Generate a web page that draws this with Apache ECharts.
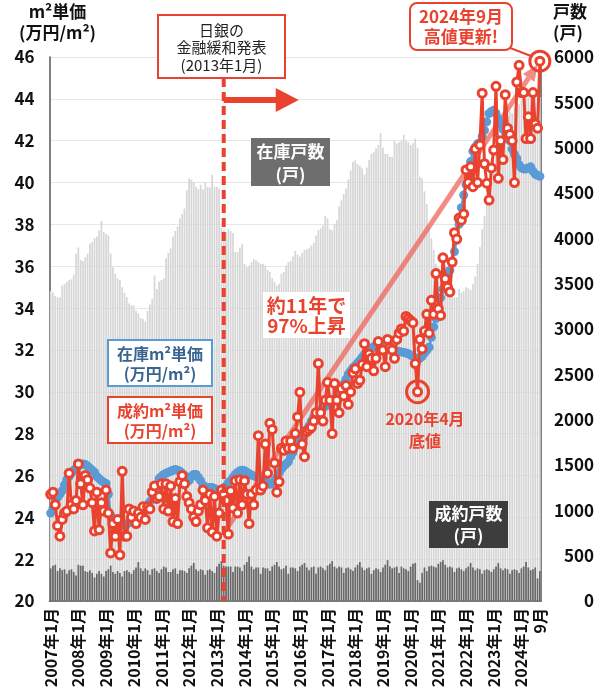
<!DOCTYPE html>
<html>
<head>
<meta charset="utf-8">
<script src="https://cdn.jsdelivr.net/npm/echarts@6/dist/echarts.min.js"></script>
<style>html,body{margin:0;padding:0;background:#fff}#c{width:600px;height:695px}</style>
</head>
<body>
<div id="c"></div>
<script>
// ---- categories: monthly, 2007年1月 .. 2024年9月 ----
const months = [];
for (let y = 2007; y <= 2024; y++) {
  for (let m = 1; m <= 12; m++) {
    if (y === 2024 && m > 9) break;
    months.push(y + '年' + m + '月');
  }
}

// 在庫戸数 (right axis, 戸)
const inventoryUnits = [
  3420,3400,3360,3350,3350,3480,3500,3520,3540,3550,3600,3830,
  3900,3760,3750,3790,3830,3940,3960,4000,4020,4090,4190,4070,
  4050,4030,3830,3680,3610,3560,3540,3460,3400,3350,3280,3260,
  3260,3200,3170,3120,3110,3080,3200,3270,3330,3590,3440,3520,
  3540,3560,3780,3840,3890,4020,4080,4130,4220,4270,4330,4530,
  4660,4650,4620,4570,4540,4590,4540,4620,4570,4560,4700,4570,
  4570,4550,4120,4090,4070,4100,4080,4060,3850,3850,3900,3940,
  3720,3680,3700,3740,3770,3760,3740,3720,3720,3700,3650,3630,
  3560,3520,3480,3500,3610,3630,3700,3740,3750,3800,3860,3820,
  3800,3840,3870,3880,3890,3920,3950,4030,4090,4110,4140,4250,
  4220,4100,4090,4160,4200,4350,4420,4490,4550,4650,4750,4845,
  4860,4820,4800,4770,4700,4780,4860,4930,4950,4990,5030,5160,
  5000,4930,4930,4900,4900,5080,5045,5060,5080,5140,5080,5060,
  5030,5050,5100,5000,4680,4660,4520,4380,4125,4000,3870,3720,
  3680,3650,3535,3460,3420,3390,3370,3350,3350,3440,3400,3420,
  3460,3450,3430,3500,3580,3720,3905,4100,4250,4420,4600,4715,
  4860,4950,5050,5120,5200,5280,5350,5400,5380,5450,5500,5480,
  5520,5560,5540,5600,5580,5550,5580,5600,5560
];

// 成約戸数 (right axis, 戸)
const contractUnits = [
  360,390,400,330,360,340,350,300,340,350,320,280,
  400,390,390,330,320,340,310,260,300,330,300,270,
  330,350,390,320,300,330,310,270,330,340,320,300,
  340,370,430,360,330,360,340,290,350,360,330,310,
  350,380,370,320,320,350,360,300,340,340,330,310,
  360,390,420,350,330,350,340,290,340,350,330,310,
  380,410,440,390,380,380,380,320,380,380,370,330,
  400,430,490,380,350,370,370,300,370,360,360,330,
  380,400,430,380,350,360,390,300,370,370,360,330,
  380,400,420,370,340,370,380,300,370,380,360,340,
  390,410,440,380,360,380,370,310,360,370,350,330,
  370,400,430,370,340,360,370,300,340,360,350,320,
  370,400,450,380,360,370,380,310,380,360,350,330,
  380,410,420,230,200,310,370,330,380,390,380,370,
  410,430,450,400,370,380,370,320,360,370,350,330,
  360,380,420,370,340,360,350,300,340,350,340,320,
  350,380,420,360,340,360,350,300,340,350,340,310,
  360,380,430,370,340,350,370,250,330
];

// 在庫m²単価 (left axis, 万円/m²)
const inventoryPrice = [
  24.2,24.45,24.75,24.95,25.1,25.27,25.55,25.8,25.95,26.1,26.25,26.35,
  26.45,26.52,26.55,26.52,26.45,26.35,26.25,26.15,25.95,25.85,25.75,25.68,
  25.62,25.1,24.1,23.8,23.72,23.67,23.63,23.6,23.62,23.67,23.75,23.8,
  23.86,23.95,24.05,24.2,24.35,24.5,24.6,24.75,25.1,25.35,25.55,25.85,
  25.95,26.05,26.1,26.15,26.2,26.25,26.28,26.25,26.2,26.1,26.0,25.9,
  25.75,25.95,26.05,26.05,25.9,25.75,25.55,25.45,25.43,25.43,25.42,25.38,
  25.3,25.27,25.3,25.4,25.5,25.65,25.75,25.9,26.05,26.15,26.22,26.25,
  26.23,26.15,26.08,26.02,25.98,25.95,25.92,25.85,25.8,25.75,25.65,25.58,
  25.6,25.75,25.9,26.1,26.3,26.45,26.55,26.65,26.9,27.1,27.4,27.55,
  27.65,27.8,28.05,28.2,28.38,28.6,28.8,28.95,29.05,29.15,29.22,29.3,
  29.36,29.45,29.58,29.66,29.75,29.85,30.1,30.38,30.6,30.85,31.0,31.15,
  31.25,31.38,31.5,31.65,31.8,31.9,31.98,32.05,32.15,32.22,32.3,32.3,
  32.25,32.15,32.05,32.0,31.97,31.95,31.95,31.93,31.9,31.88,31.85,31.82,
  31.75,31.7,31.6,31.55,31.6,31.7,31.85,31.98,32.13,32.6,33.1,33.5,
  33.9,34.5,34.9,35.2,35.5,35.8,36.2,36.7,37.3,38.0,38.8,39.4,
  39.9,40.5,41.0,41.5,41.7,41.85,41.9,42.2,42.5,42.9,43.3,43.4,
  43.45,43.3,43.05,42.8,42.55,42.4,42.25,42.0,41.6,41.35,41.15,40.85,
  40.7,40.65,40.65,40.7,40.75,40.55,40.4,40.35,40.3
];

// 成約m²単価 (left axis, 万円/m²)
const contractPrice = [
  25.1,25.2,24.6,23.6,23.1,23.9,24.2,24.3,26.1,24.6,24.4,24.8,
  26.55,25.6,24.6,26.0,25.8,25.4,24.7,23.35,25.2,23.4,24.7,24.3,
  25.3,24.2,22.3,23.7,23.1,23.9,22.2,26.2,23.1,23.1,24.4,24.0,
  24.3,23.7,24.2,24.0,24.5,23.9,24.5,24.4,25.2,25.5,24.9,25.0,
  25.6,24.4,25.6,24.3,25.5,23.8,24.9,23.7,25.7,26.0,25.6,25.0,
  24.7,24.4,24.0,23.8,24.3,24.6,25.3,24.8,23.5,25.1,23.3,25.0,
  23.1,24.2,25.3,25.1,24.8,23.2,25.27,24.45,25.75,24.2,25.8,24.6,
  25.75,25.1,23.7,25.1,24.6,25.3,27.9,25.3,25.5,27.5,26.1,28.5,
  28.2,26.6,25.2,25.7,27.3,27.2,27.65,27.3,27.65,27.3,28.0,28.8,
  29.98,27.5,26.9,28.1,28.2,28.3,28.6,29.0,31.35,29.0,28.6,29.6,
  30.45,29.6,28.0,30.4,29.6,29.0,30.15,29.8,30.3,29.4,30.0,30.9,
  31.1,30.4,30.55,31.3,32.3,31.2,31.8,31.6,31.0,31.6,32.4,32.0,
  32.0,31.2,32.5,32.1,32.0,31.6,32.5,32.8,33.0,32.9,33.6,33.5,
  33.4,33.3,31.35,30.0,32.5,32.05,32.9,33.7,32.8,34.37,33.7,35.65,
  33.97,33.65,36.4,35.4,35.0,34.77,36.2,37.6,37.3,38.3,38.2,38.5,
  40.6,40.0,40.75,39.8,41.6,40.0,41.8,44.27,40.9,39.97,39.16,40.7,
  41.55,44.6,40.2,42.0,41.1,44.2,42.6,42.3,42.0,40.0,44.8,45.6,
  44.3,44.3,42.1,43.15,42.1,44.3,42.8,42.6,45.8
];

// axis ticks
const priceAxis = { min: 20, max: 46, interval: 2 };
const unitAxis = { min: 0, max: 6000, interval: 500 };

// annotation anchors
const bojMonth = '2013年4月';
const lowMonth = '2020年4月';
const highMonth = '2024年9月';
const trendFrom = ['2013年4月', 23.25];
const trendTo = ['2024年9月', 45.8];

const F = "'Noto Sans CJK JP','Noto Sans',sans-serif";
const RED = '#e9432f';
const BLUE = '#5b9bd5';

const chart = echarts.init(document.getElementById('c'), null, { renderer: 'canvas' });
const lastIdx = months.length - 1;

const option = {
  animation: false,
  textStyle: { fontFamily: F },
  grid: { left: 42, right: 59, top: 57, bottom: 94 },
  xAxis: {
    type: 'category',
    data: months,
    boundaryGap: true,
    axisLine: { lineStyle: { color: '#555', width: 1.5 } },
    axisTick: { show: false },
    splitLine: { show: false },
    axisLabel: {
      rotate: 90,
      interval: (i, v) => /年1月$/.test(v) || i === lastIdx,
      formatter: (v, i) => (i === lastIdx ? v.slice(v.indexOf('年') + 1) : v),
      fontSize: 16, fontWeight: 'bold', color: '#111', margin: 7, fontFamily: F
    }
  },
  yAxis: [
    {
      type: 'value', min: priceAxis.min, max: priceAxis.max, interval: priceAxis.interval,
      name: 'm²単価\n(万円/m²)', nameLocation: 'end', nameGap: 14,
      nameTextStyle: { fontSize: 17, fontWeight: 'bold', color: '#111', align: 'center', lineHeight: 21, padding: [0, 0, 0, 16], fontFamily: F },
      axisLine: { show: true, lineStyle: { color: '#555', width: 1.5 } },
      axisTick: { show: false },
      axisLabel: { fontSize: 17, fontWeight: 'bold', color: '#111', margin: 15, fontFamily: F },
      splitLine: { show: true, lineStyle: { color: '#e6e6e6', width: 1 } }
    },
    {
      type: 'value', min: unitAxis.min, max: unitAxis.max, interval: unitAxis.interval, position: 'right',
      name: '戸数\n(戸)', nameLocation: 'end', nameGap: 14,
      nameTextStyle: { fontSize: 17, fontWeight: 'bold', color: '#111', align: 'left', lineHeight: 21, padding: [0, 0, 0, 12], fontFamily: F },
      axisLine: { show: true, lineStyle: { color: '#555', width: 1.5 } },
      axisTick: { show: false },
      axisLabel: { fontSize: 17, fontWeight: 'bold', color: '#111', align: 'right', margin: 53, fontFamily: F,
                   formatter: v => String(v) },
      splitLine: { show: false }
    }
  ],
  series: [
    { name: '在庫戸数', type: 'bar', yAxisIndex: 1, data: inventoryUnits, barWidth: '74%', barGap: '-100%',
      itemStyle: { color: '#d6d6d6' }, z: 1, silent: true },
    { name: '成約戸数', type: 'bar', yAxisIndex: 1, data: contractUnits, barWidth: '74%', barGap: '-100%',
      itemStyle: { color: '#676767' }, z: 1, silent: true },
    { name: '在庫m²単価', type: 'line', yAxisIndex: 0, data: inventoryPrice, symbol: 'circle', symbolSize: 9,
      showAllSymbol: true, lineStyle: { color: BLUE, width: 2.5 }, itemStyle: { color: BLUE }, z: 3, silent: true },
    { name: '成約m²単価', type: 'line', yAxisIndex: 0, data: contractPrice, symbol: 'circle', symbolSize: 8,
      showAllSymbol: true, lineStyle: { color: RED, width: 3 },
      itemStyle: { color: '#fff', borderColor: RED, borderWidth: 3 }, z: 4, silent: true,
      markPoint: {
        silent: true, symbol: 'circle', label: { show: false },
        itemStyle: { color: 'rgba(0,0,0,0)', borderColor: RED, borderWidth: 3 },
        data: [
          { coord: [months.indexOf(lowMonth), contractPrice[months.indexOf(lowMonth)]], symbolSize: 22 },
          { coord: [months.indexOf(highMonth), contractPrice[months.indexOf(highMonth)]], symbolSize: 20 }
        ]
      }
    }
  ]
};
chart.setOption(option);

// ---- annotations ----
const toPx = (cat, val) => chart.convertToPixel({ xAxisIndex: 0, yAxisIndex: 0 }, [months.indexOf(cat), val]);
const bottomY = toPx(months[0], priceAxis.min)[1];
const bojX = toPx(bojMonth, priceAxis.min)[0];
const p0 = toPx(trendFrom[0], trendFrom[1]);
const p1 = toPx(trendTo[0], trendTo[1]);
const dx = p1[0] - p0[0], dy = p1[1] - p0[1];
const len = Math.sqrt(dx * dx + dy * dy);
const ux = dx / len, uy = dy / len;
const tip = [p1[0] - ux * 4, p1[1] - uy * 4];
const base = [tip[0] - ux * 16, tip[1] - uy * 16];
const nx = -uy, ny = ux;
const TREND = 'rgba(238,96,84,0.72)';

const rect = (x, y, w, h, fill, stroke, lw, r) => ({
  type: 'rect', silent: true, z: 20,
  shape: { x, y, width: w, height: h, r: r || 0 },
  style: { fill, stroke: stroke || null, lineWidth: lw || 0 }
});
const txt = (x, y, text, color, size, weight, lh) => ({
  type: 'text', silent: true, z: 21, x, y,
  style: { text, fill: color, fontSize: size, fontWeight: weight, fontFamily: F,
           align: 'center', verticalAlign: 'middle', lineHeight: lh }
});

const graphics = [
  // trend line with arrow
  { type: 'line', silent: true, z: 2, shape: { x1: p0[0], y1: p0[1], x2: base[0], y2: base[1] },
    style: { stroke: TREND, lineWidth: 5 } },
  { type: 'polygon', silent: true, z: 2,
    shape: { points: [tip, [base[0] + nx * 7, base[1] + ny * 7], [base[0] - nx * 7, base[1] - ny * 7]] },
    style: { fill: TREND } },
  // BoJ dashed line
  { type: 'line', silent: true, z: 5, shape: { x1: bojX, y1: 78, x2: bojX, y2: bottomY },
    style: { stroke: RED, lineWidth: 4, lineDash: [9, 5] } },
  // arrow to the right
  { type: 'rect', silent: true, z: 5, shape: { x: bojX, y: 97, width: 53, height: 6 }, style: { fill: RED } },
  { type: 'polygon', silent: true, z: 5, shape: { points: [[bojX + 52, 88], [bojX + 75, 100], [bojX + 52, 112]] }, style: { fill: RED } },
  // BoJ box
  rect(158, 15, 127, 63, '#fff', RED, 2),
  txt(221.5, 47.5, '日銀の\n金融緩和発表\n(2013年1月)', '#222', 15, 'normal', 17.5),
  // 在庫戸数
  rect(251, 138, 79, 48, '#6e6e6e'),
  txt(290.5, 163.5, '在庫戸数\n(戸)', '#fff', 17, 'bold', 23),
  // 成約戸数
  rect(429, 501, 79, 47, '#3d3d3d'),
  txt(468.5, 524.5, '成約戸数\n(戸)', '#fff', 17, 'bold', 22),
  // 在庫m²単価
  rect(108, 340, 104, 46, '#fff', BLUE, 2),
  txt(160, 364, '在庫m²単価\n(万円/m²)', '#38658f', 16, 'bold', 20),
  // 成約m²単価
  rect(108, 397, 104, 46, '#fff', RED, 2),
  txt(160, 421, '成約m²単価\n(万円/m²)', RED, 16, 'bold', 20),
  // 約11年で97%上昇
  rect(263, 292, 87, 46, '#fff'),
  txt(306.5, 315.5, '約11年で\n97%上昇', RED, 19, 'bold', 20),
  // 2020年4月 底値
  txt(425, 430, '2020年4月\n底値', RED, 16, 'bold', 22),
  // 2024年9月 高値更新
  { type: 'line', silent: true, z: 19, shape: { x1: 505, y1: 46, x2: 531, y2: 56 }, style: { stroke: RED, lineWidth: 2 } },
  rect(410, 3, 102, 47, '#fff', RED, 2, 7),
  txt(461, 27, '2024年9月\n高値更新!', RED, 17, 'bold', 20)
];
chart.setOption({ graphic: graphics });
</script>
</body>
</html>
